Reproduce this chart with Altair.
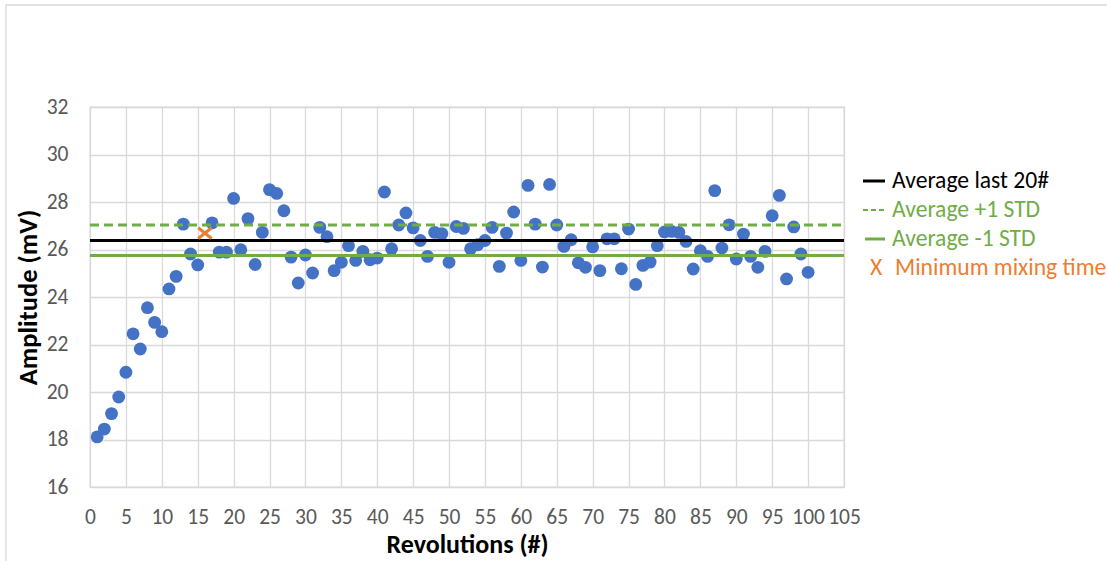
import altair as alt
import pandas as pd

# Amplitude measured after each revolution (mV)
revolutions = list(range(1, 101))
amplitude_mv = [
    18.11, 18.44, 19.09, 19.79, 20.83, 22.45, 21.81, 23.55, 22.93, 22.54,
    24.34, 24.87, 27.07, 25.81, 25.35, 26.69, 27.12, 25.89, 25.89, 28.15,
    25.99, 27.30, 25.37, 26.72, 28.52, 28.36, 27.63, 25.68, 24.59, 25.77,
    25.01, 26.93, 26.54, 25.11, 25.46, 26.16, 25.54, 25.92, 25.57, 25.64,
    28.42, 26.03, 27.03, 27.54, 26.91, 26.38, 25.71, 26.72, 26.67, 25.46,
    26.97, 26.89, 26.03, 26.20, 26.38, 26.93, 25.29, 26.69, 27.58, 25.54,
    28.70, 27.07, 25.26, 28.74, 27.03, 26.13, 26.41, 25.44, 25.25, 26.11,
    25.11, 26.45, 26.45, 25.19, 26.86, 24.53, 25.33, 25.47, 26.16, 26.74,
    26.76, 26.72, 26.34, 25.18, 25.95, 25.71, 28.48, 26.06, 27.04, 25.60,
    26.65, 25.71, 25.25, 25.92, 27.42, 28.28, 24.76, 26.95, 25.81, 25.04,
]
min_mixing_rev = 16

# Reference levels
level_names = ["avg", "plus", "minus"]
level_values = [26.38, 27.03, 25.75]
level_start = 0
level_end = 105

x_ticks = list(range(0, 106, 5))
y_ticks = list(range(16, 33, 2))

legend_labels = ["Average last 20#", "Average +1 STD", "Average -1 STD", "Minimum mixing time"]

FONT = "Carlito, Lato, sans-serif"
BLUE = "#4472C4"
GREEN = "#70AD47"
ORANGE = "#ED7D31"
GRID = "#d9d9d9"

W, H = 754, 380
PAD_L, PAD_T = 90, 107

df = pd.DataFrame({"rev": revolutions, "amp": amplitude_mv})
levels = pd.DataFrame({
    "name": level_names,
    "level": level_values,
    "start": [level_start] * 3,
    "end": [level_end] * 3,
})
one = pd.DataFrame({"k": [0]})

x_scale = alt.Scale(domain=[0, 105], nice=False, zero=False)
y_scale = alt.Scale(domain=[16, 32], nice=False, zero=False)

x_axis = alt.Axis(
    title="Revolutions (#)", values=x_ticks, grid=True, gridColor=GRID, gridWidth=1.3,
    domain=False, ticks=False, tickSize=0, labelFont=FONT, labelFontSize=21.5,
    labelColor="#595959", labelPadding=19, labelOverlap=False, labelFlush=False,
    titleFont=FONT, titleFontSize=26, titleFontWeight="bold", titleColor="black",
    titleX=W / 2, titleY=57, titleAlign="center", titleBaseline="middle",
)
y_axis = alt.Axis(
    title="Amplitude (mV)", values=y_ticks, grid=True, gridColor=GRID, gridWidth=1.3,
    domain=False, ticks=False, tickSize=0, labelFont=FONT, labelFontSize=21.5,
    labelColor="#595959", labelPadding=22, labelOverlap=False, labelFlush=False,
    titleFont=FONT, titleFontSize=26.5, titleFontWeight="bold", titleColor="black",
    titleX=-62, titleY=H / 2, titleAngle=270, titleAlign="center", titleBaseline="middle",
)

X_ENC = dict(scale=x_scale, axis=x_axis)
Y_ENC = dict(scale=y_scale, axis=y_axis)

# Outer chart-area frame
frame = alt.Chart(one).mark_rect(fillOpacity=0, stroke=GRID, strokeWidth=1.3).encode(
    x=alt.value(6 - PAD_L), x2=alt.value(1107 - PAD_L + 10),
    y=alt.value(5 - PAD_T), y2=alt.value(561 - PAD_T + 10),
)

points = alt.Chart(df).mark_circle(size=165, color=BLUE, opacity=1).encode(
    x=alt.X("rev:Q", **X_ENC),
    y=alt.Y("amp:Q", **Y_ENC),
).transform_filter(alt.datum.rev != min_mixing_rev)

def level_rule(name, color, dash=None):
    kw = dict(color=color, strokeWidth=3)
    if dash:
        kw["strokeDash"] = dash
    return alt.Chart(levels).mark_rule(**kw).encode(
        x=alt.X("start:Q", **X_ENC), x2="end:Q",
        y=alt.Y("level:Q", **Y_ENC),
    ).transform_filter(alt.datum.name == name)

avg_line = level_rule("avg", "black")
plus_line = level_rule("plus", GREEN, [9, 5])
minus_line = level_rule("minus", GREEN)

mix_marker = alt.Chart(df).mark_point(
    shape="M-1,-0.8L1,0.8M1,-0.8L-1,0.8", filled=False, strokeWidth=3,
    color=ORANGE, size=180, opacity=1,
).encode(
    x=alt.X("rev:Q", **X_ENC), y=alt.Y("amp:Q", **Y_ENC),
).transform_filter(alt.datum.rev == min_mixing_rev)

# Legend block on the right
rows_y = [74, 103, 132, 161]
text_x = 802
LEG_SIZE = 23.6
legend_layers = [
    alt.Chart(one).mark_rule(color="black", strokeWidth=3).encode(
        x=alt.value(773), x2=alt.value(795), y=alt.value(rows_y[0])),
    alt.Chart(one).mark_rule(color=GREEN, strokeWidth=2, strokeDash=[5, 3]).encode(
        x=alt.value(773), x2=alt.value(795), y=alt.value(rows_y[1])),
    alt.Chart(one).mark_rule(color=GREEN, strokeWidth=3).encode(
        x=alt.value(775), x2=alt.value(795), y=alt.value(rows_y[2])),
    alt.Chart(one).mark_text(text="X", font=FONT, fontSize=LEG_SIZE, color=ORANGE,
                             align="center", baseline="middle").encode(
        x=alt.value(786), y=alt.value(rows_y[3])),
]
for label, color, yy, dx in zip(legend_labels, ["black", GREEN, GREEN, ORANGE], rows_y, [0, 0, 0, 3]):
    legend_layers.append(
        alt.Chart(one).mark_text(text=label, font=FONT, fontSize=LEG_SIZE, color=color,
                                 align="left", baseline="middle").encode(
            x=alt.value(text_x + dx), y=alt.value(yy))
    )

chart = alt.layer(
    frame, points, avg_line, plus_line, minus_line, mix_marker, *legend_layers
).properties(
    width=W, height=H,
    autosize=alt.AutoSizeParams(type="none"),
    padding={"left": PAD_L, "top": PAD_T, "right": 1107 - PAD_L - W, "bottom": 561 - PAD_T - H},
    background="white",
).configure_view(stroke=GRID, strokeWidth=1.3)

chart.save("out.html", embed_options={"renderer": "svg", "actions": False})
